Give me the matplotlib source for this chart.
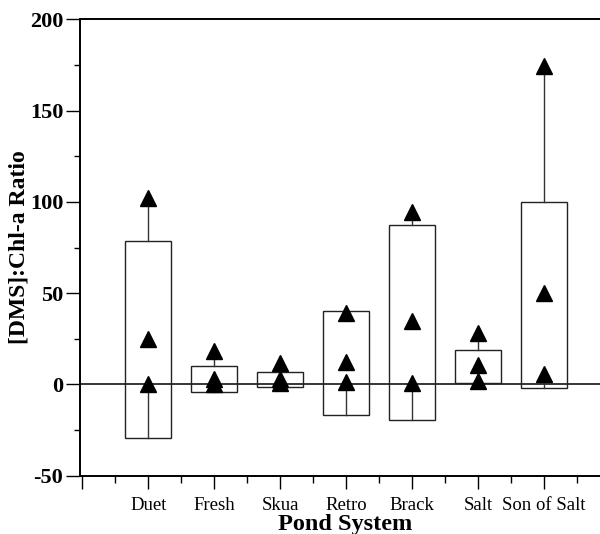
import numpy as np
import matplotlib
matplotlib.use('Agg')
import matplotlib.pyplot as plt
from matplotlib.ticker import MultipleLocator

plt.rcParams['font.family'] = 'Liberation Serif'
plt.rcParams['axes.unicode_minus'] = False

ponds = ['Duet', 'Fresh', 'Skua', 'Retro', 'Brack', 'Salt', 'Son of Salt']
# box extent for each pond system
box_low = [-29.2, -4.2, -1.6, -16.7, -19.5, 0.6, -2.1]
box_high = [78.6, 10.2, 7.0, 40.3, 87.2, 18.8, 99.7]
# individual [DMS]:Chl-a ratios (three per pond)
obs_high = [102.0, 18.5, 11.5, 39.0, 94.5, 28.0, 174.5]
obs_mid = [25.0, 3.0, 3.0, 12.4, 35.0, 10.6, 50.0]
obs_low = [0.0, 0.5, 1.0, 1.5, 1.0, 1.9, 5.7]

fig = plt.figure(figsize=(6.0, 5.34), dpi=100)
ax = fig.add_axes([0.133, 0.109, 0.867, 0.855])

pos = np.arange(1, len(ponds) + 1)
width = 0.7
ax.axhline(0, color='black', lw=1.1, zorder=1)

for i, p in enumerate(pos):
    ax.add_patch(plt.Rectangle((p - width / 2, box_low[i]), width,
                               box_high[i] - box_low[i], fill=False,
                               edgecolor='#222222', lw=1.0, zorder=2))
    # whiskers out to the extreme observations
    if obs_high[i] > box_high[i]:
        ax.plot([p, p], [box_high[i], obs_high[i]], color='#333333', lw=1.0, zorder=2)
    if obs_low[i] > box_low[i]:
        ax.plot([p, p], [box_low[i], obs_low[i]], color='#333333', lw=1.0, zorder=2)

for vals in (obs_high, obs_mid, obs_low):
    ax.plot(pos, vals, linestyle='none', marker='^', markersize=11,
            color='black', zorder=3)

ax.set_xlim(-0.04, 7.85)
ax.set_ylim(-50, 200)
ax.set_xticks(range(0, 8))
ax.set_xticklabels([''] + ponds, fontsize=13.5)
ax.xaxis.set_minor_locator(MultipleLocator(0.5))
ax.yaxis.set_major_locator(MultipleLocator(50))
ax.yaxis.set_minor_locator(MultipleLocator(25))
for lab in ax.get_yticklabels():
    lab.set_fontweight('bold')
    lab.set_fontsize(16)

ax.tick_params(axis='y', which='major', direction='out', length=10, width=1.0, pad=2)
ax.tick_params(axis='y', which='minor', direction='out', length=4, width=1.0)
ax.tick_params(axis='x', which='major', direction='out', length=9, width=1.0, pad=6)
ax.tick_params(axis='x', which='minor', direction='out', length=5, width=1.0)

ax.spines['right'].set_visible(False)
for s in ('left', 'bottom', 'top'):
    ax.spines[s].set_linewidth(1.4)

ax.set_xlabel('Pond System', fontsize=17.5, fontweight='bold', labelpad=0)
ax.xaxis.set_label_coords(0.51, -0.083)
ax.set_ylabel('[DMS]:Chl-a Ratio', fontsize=17, fontweight='bold')
ax.yaxis.set_label_coords(-0.097, 0.5)

fig.savefig('out.png', dpi=100)
